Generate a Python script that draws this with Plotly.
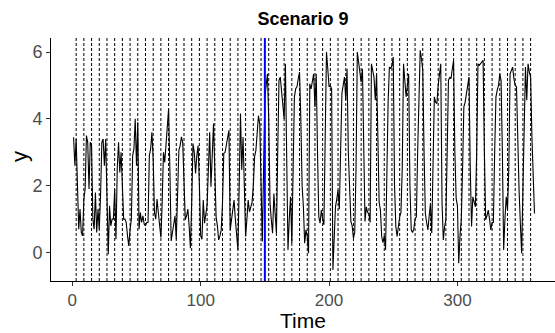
import plotly.graph_objects as go

time = list(range(1, 361))
y_values = [
    3.45, 2.6, 3.4, 1.8, 0.7, 1.3, 0.6, 0.5, 1.6, 1.9,
    3.5, 3.3, 1.9, 3.3, 3.2, 1.0, 0.7, 1.8, 0.6, 1.3,
    0.7, 1.7, 3.3, 3.4, 2.6, 3.4, 1.0, -0.05, 1.4, 0.8,
    1.0, 1.0, 1.9, 0.4, 2.5, 3.3, 2.4, 3.0, 2.0, 1.0,
    1.0, 0.9, 0.5, 0.2, 0.7, 1.0, 2.9, 3.1, 4.0, 2.6,
    3.9, 0.7, 1.2, 0.9, 1.1, 0.85, 0.8, 0.9, 0.9, 2.9,
    3.1, 3.6, 2.8, 1.2, 1.0, 1.6, 1.2, 0.8, 0.45, 1.5,
    3.0, 2.7, 3.3, 3.9, 4.3, 2.5, 0.35, 0.6, 0.9, 1.1,
    0.4, 1.6, 3.06, 3.2, 3.46, 3.3, 2.0, 0.98, 1.1, 1.3,
    0.8, 0.13, 1.5, 3.26, 3.0, 2.37, 2.9, 3.2, 2.0, 0.5,
    0.4, 1.57, 0.88, 1.1, 1.42, 2.5, 3.6, 1.97, 3.0, 3.86,
    2.5, 1.07, 0.8, 0.38, 0.5, 0.68, 1.5, 2.97, 3.0, 3.26,
    3.4, 3.66, 0.68, 1.0, 1.3, 1.57, 1.0, 0.5, 0.08, 2.0,
    4.16, 2.47, 3.46, 2.0, 0.48, 1.0, 1.57, 1.22, 1.4, 1.5,
    2.0, 2.87, 3.06, 3.5, 4.1, 3.86, 2.0, 0.33, 2.5, 4.66,
    5.0, 5.35, 4.0, 1.5, 0.98, 0.58, 1.77, 1.2, 0.58, 3.0,
    5.15, 5.25, 4.8, 4.5, 4.0, 5.65, 2.0, 0.08, 1.0, 1.67,
    0.28, 2.5, 4.66, 4.9, 4.96, 5.2, 5.4, 4.0, 2.0, 1.37,
    0.28, 0.68, 0.5, -0.02, 5.05, 4.9, 5.2, 5.35, 4.36, 5.35,
    3.0, 1.07, 0.88, 1.27, 1.0, 0.83, 3.5, 6.0, 5.5, 4.96,
    5.0, 4.9, -0.52, 0.8, 1.37, 1.6, 1.87, 1.3, 3.5, 4.76,
    5.0, 5.25, 4.56, 5.5, 3.0, 1.97, 0.93, 0.8, 0.43, 0.6,
    2.5, 6.0, 5.7, 5.45, 5.1, 5.5, 3.0, 0.93, 1.37, 1.2,
    1.17, 0.9, 5.65, 5.4, 5.25, 4.56, 5.35, 3.5, 1.5, 1.27,
    0.48, 0.3, 0.5, 0.08, 2.5, 4.5, 5.55, 5.5, 5.6, 5.85,
    2.0, 0.78, 0.48, 0.8, 1.07, 1.2, 2.5, 5.65, 5.2, 4.66,
    5.0, 5.35, 2.0, 0.68, 0.6, 0.7, 1.0, 1.07, 3.0, 4.96,
    6.05, 5.8, 5.45, 3.0, 1.17, 0.9, 0.68, 1.1, 1.47, 0.58,
    2.5, 4.66, 4.5, 4.46, 5.0, 5.3, 5.65, 1.5, 0.38, 0.78,
    0.98, 3.0, 5.15, 5.25, 5.2, 5.5, 5.75, 3.0, 1.62, 1.4,
    -0.32, 0.5, 0.98, 2.5, 4.36, 4.5, 4.76, 5.0, 5.25, 2.5,
    0.78, 1.67, 1.5, 1.37, 3.0, 5.65, 5.6, 5.65, 5.7, 5.75,
    3.0, 0.98, 1.1, 1.27, 1.0, 0.68, 0.9, 0.9, 3.0, 4.66,
    4.86, 5.0, 5.35, 5.15, 3.0, 0.08, 1.0, 1.67, 1.27, 2.5,
    5.35, 5.45, 5.55, 5.2, 5.0, 4.96, 3.0, 1.87, 0.88, -0.02,
    1.87, 4.0, 5.55, 4.56, 5.65, 5.4, 5.25, 3.5, 2.17, 1.17,
]
dashed_times = [3, 9, 15, 21, 27, 33, 39, 45, 51, 57, 63, 69, 75, 81, 87,
                93, 99, 105, 111, 117, 123, 129, 135, 141, 147, 153, 159,
                165, 171, 177, 183, 189, 195, 201, 207, 213, 219, 225, 231,
                237, 243, 249, 255, 261, 267, 273, 279, 285, 291, 297, 303,
                309, 315, 321, 327, 333, 339, 345, 351, 357]
change_time = 150
x_ticks = [0, 100, 200, 300]
y_ticks = [0, 2, 4, 6]

L, R, T, B = 51, 0, 38, 52
W, H = 555, 333
pw, ph = W - L - R, H - T - B

fig = go.Figure()
fig.add_trace(go.Scatter(x=time, y=y_values, mode="lines",
                         line=dict(color="black", width=1.1),
                         showlegend=False, hoverinfo="skip"))

shapes = []
for t in dashed_times:
    shapes.append(dict(type="line", xref="x", yref="paper", x0=t, x1=t,
                       y0=0, y1=1, layer="below",
                       line=dict(color="black", width=1, dash="3px,2px")))
shapes.append(dict(type="line", xref="x", yref="paper", x0=change_time,
                   x1=change_time, y0=0, y1=1, layer="above",
                   line=dict(color="#0000FF", width=2)))

annotations = [
    dict(text="Time", xref="paper", yref="paper", x=(303 - L) / pw,
         y=(H - B - 320) / ph, xanchor="center", yanchor="middle",
         showarrow=False, font=dict(size=21, color="black")),
    dict(text="y", xref="paper", yref="paper", x=(19 - L) / pw,
         y=(H - B - 157) / ph, xanchor="center", yanchor="middle",
         textangle=-90, showarrow=False, font=dict(size=22, color="black")),
]

fig.update_layout(
    width=W, height=H,
    margin=dict(l=L, r=R, t=T, b=B),
    paper_bgcolor="white", plot_bgcolor="white",
    shapes=shapes, annotations=annotations,
    font=dict(family="Liberation Sans, Arial, sans-serif"),
    title=dict(text="<b>Scenario 9</b>", x=(303 - L) / pw, xref="paper",
               y=1 - 19 / H, yref="container", xanchor="center",
               yanchor="middle", font=dict(size=18, color="black")),
    xaxis=dict(range=[-16.6, 376], tickvals=x_ticks, showgrid=False,
               zeroline=False, showline=True, linecolor="black", linewidth=1,
               ticks="outside", ticklen=4, tickcolor="#333333",
               tickfont=dict(size=17, color="#4D4D4D")),
    yaxis=dict(range=[-0.85, 6.42], tickvals=y_ticks, showgrid=False,
               zeroline=False, showline=True, linecolor="black", linewidth=1,
               ticks="outside", ticklen=4, tickcolor="#333333",
               tickfont=dict(size=18, color="#4D4D4D")),
)

fig.write_html("out.html")
